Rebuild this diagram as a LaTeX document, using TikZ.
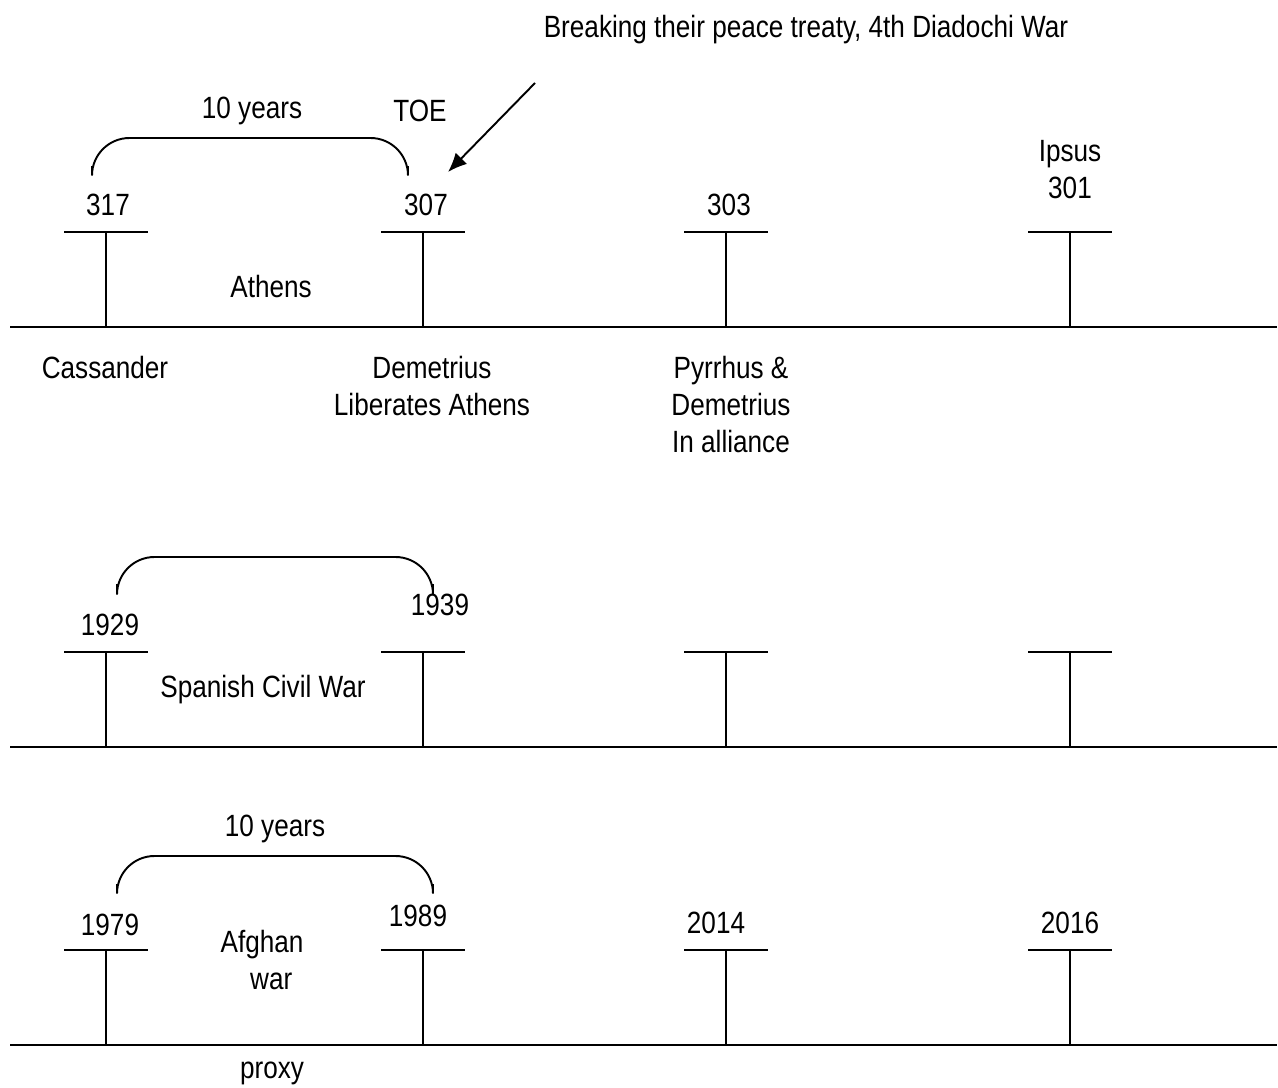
\documentclass[tikz,border=0pt]{standalone}
\usepackage{fontspec}
\setmainfont{Liberation Sans}[FakeStretch=0.85]
\usetikzlibrary{arrows.meta,positioning}
\tikzset{
  lbl/.style={inner sep=0pt, align=center, font=\fontsize{17.5}{21}\selectfont},
  axis/.style={line width=1.1pt, draw=black},
  span/.style={line width=1.1pt, draw=black, rounded corners=7.5mm},
  arrow/.style={-{Latex[length=3.8mm,width=3.2mm]}, line width=1.1pt, draw=black}
}
\newcommand{\tbar}[2]{%
  \draw[axis] (#1-42,#2) -- (#1+42,#2);
  \draw[axis] (#1,#2) -- (#1,#2+95);}

\begin{document}
\begin{tikzpicture}[x=0.02cm, y=-0.02cm]
  \useasboundingbox (0,0) rectangle (1278,1088);

  % time lines
  \foreach \yy in {327,747,1045} {
    \draw[axis] (10,\yy) -- (1277,\yy);
    \foreach \xx in {106,423,726,1070} { \tbar{\xx}{\yy-95} }
  }

  % first line: Diadochi
  \node[lbl] (t317) at (108,205) {317};
  \node[lbl] (t307) at (426,205) {307};
  \node[lbl] (t303) at (729,205) {303};
  \node[lbl] (t301) at (1070,170) {Ipsus\\301};
  \node[lbl] (span1) at (252,111) {10 years};
  \node[lbl] (toe) at (420,111) {TOE};
  \node[lbl] (athens) at (271,287) {Athens};
  \node[lbl] (cass) at (105,368) {Cassander};
  \node[lbl, anchor=north] (demet) at (432,356) {Demetrius\\Liberates Athens};
  \node[lbl, anchor=north] (pyrr) at (731,356) {Pyrrhus \&\\Demetrius\\In alliance};
  \node[lbl] (treaty) at (806,30) {Breaking their peace treaty, 4th Diadochi War};
  \coordinate (treatyend) at (535,83);
  \coordinate (treatytip) at (448,172);
  \draw[arrow] (treatyend) -- (treatytip);
  \draw[span] (92,166) -- (92,138) -- (408,138) -- (408,166);

  % second line: Spain
  \node[lbl] (t1929) at (110,625) {1929};
  \node[lbl] (t1939) at (440,605) {1939};
  \node[lbl] (spain) at (263,690) {Spanish Civil War};
  \draw[span] (117,584) -- (117,557) -- (433,557) -- (433,584);

  % third line: Afghanistan
  \node[lbl] (span3) at (275,829) {10 years};
  \node[lbl] (t1979) at (110,925) {1979};
  \node[lbl] (t1989) at (418,916) {1989};
  \node[lbl] (t2014) at (716,923) {2014};
  \node[lbl] (t2016) at (1070,923) {2016};
  \node[lbl] (afghan) at (262,960) {Afghan\\\hspace{0.6em}war};
  \node[lbl] (proxy) at (272,1073) {proxy};
  \draw[span] (117,884) -- (117,856) -- (433,856) -- (433,884);
\end{tikzpicture}
\end{document}
